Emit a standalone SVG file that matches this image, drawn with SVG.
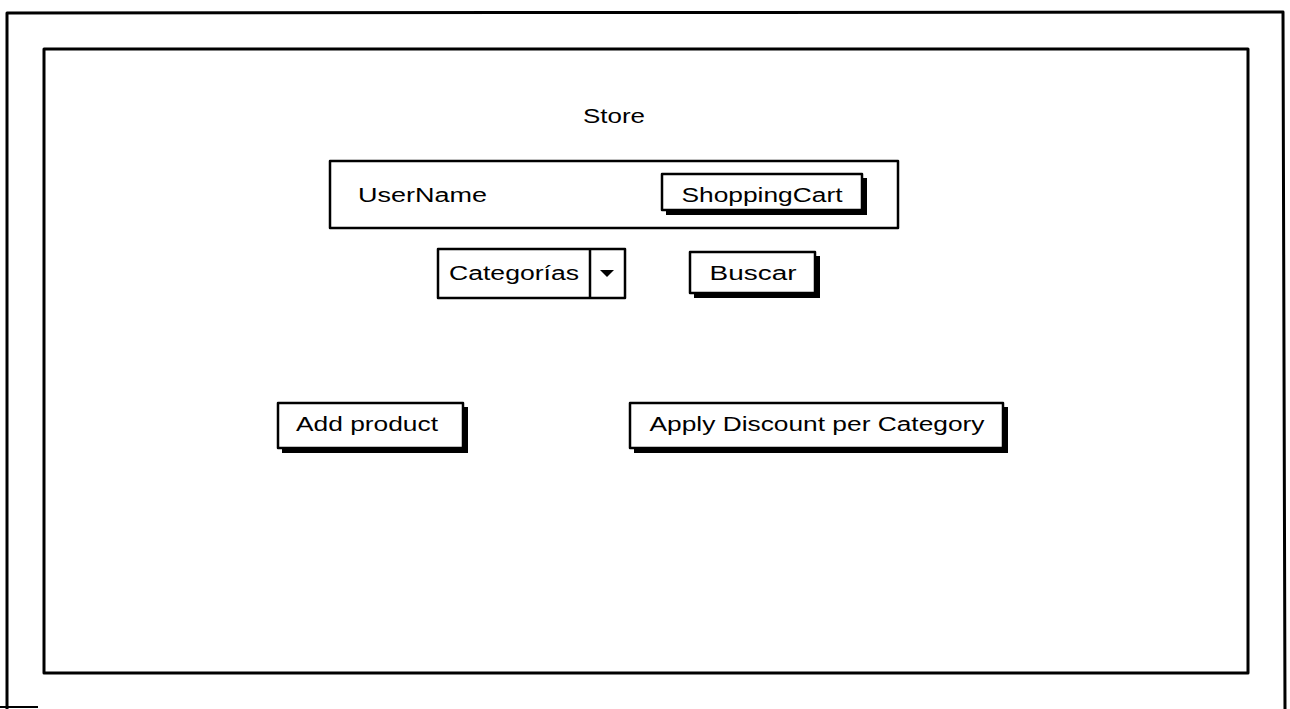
<svg xmlns="http://www.w3.org/2000/svg" width="1290" height="709" viewBox="0 0 1290 709">
<style>
.frame{fill:none;stroke:#000;stroke-width:3;stroke-linejoin:round}
.box{fill:#fff;stroke:#000;stroke-width:2.5;stroke-linejoin:round}
.shadow{fill:#000}
.t{font-family:"Liberation Sans",Arial,sans-serif;font-size:20px;fill:#000}
</style>
<rect width="1290" height="709" fill="#fff"/>
<g id="outer"><path class="frame" d="M7,709 L7,13 L1283,12 L1285,709"/><path d="M0,707 L38,707" stroke="#000" stroke-width="2"/></g>
<g id="inner"><rect class="frame" x="44" y="49" width="1204" height="624"/></g>
<g id="store"><text class="t" x="614" y="123" text-anchor="middle" textLength="62" lengthAdjust="spacingAndGlyphs">Store</text></g>
<g id="header">
<rect class="box" x="330" y="161" width="568" height="67" fill="none"/>
<text class="t" x="358" y="202" textLength="129" lengthAdjust="spacingAndGlyphs">UserName</text>
</g>
<g id="shoppingcart">
<rect class="shadow" x="666" y="178" width="201" height="37"/>
<rect class="box" x="662" y="174" width="200" height="36"/>
<text class="t" x="762" y="202" text-anchor="middle" textLength="161" lengthAdjust="spacingAndGlyphs">ShoppingCart</text>
</g>
<g id="categorias">
<rect class="box" x="438" y="249" width="187" height="49"/>
<line x1="590" y1="249" x2="590" y2="298" stroke="#000" stroke-width="2.5"/>
<path d="M600,270 L614,270 L607,277 Z" fill="#000"/>
<text class="t" x="449" y="280" textLength="130" lengthAdjust="spacingAndGlyphs">Categorías</text>
</g>
<g id="buscar">
<rect class="shadow" x="694" y="256" width="126" height="42"/>
<rect class="box" x="690" y="252" width="125" height="41"/>
<text class="t" x="753" y="280" text-anchor="middle" textLength="87" lengthAdjust="spacingAndGlyphs">Buscar</text>
</g>
<g id="addproduct">
<rect class="shadow" x="282" y="407" width="186" height="46"/>
<rect class="box" x="278" y="403" width="185" height="45"/>
<text class="t" x="367" y="431" text-anchor="middle" textLength="142" lengthAdjust="spacingAndGlyphs">Add product</text>
</g>
<g id="applydiscount">
<rect class="shadow" x="634" y="407" width="374" height="46"/>
<rect class="box" x="630" y="403" width="373" height="45"/>
<text class="t" x="817" y="431" text-anchor="middle" textLength="335" lengthAdjust="spacingAndGlyphs">Apply Discount per Category</text>
</g>
<g id="connectors"></g>
</svg>
